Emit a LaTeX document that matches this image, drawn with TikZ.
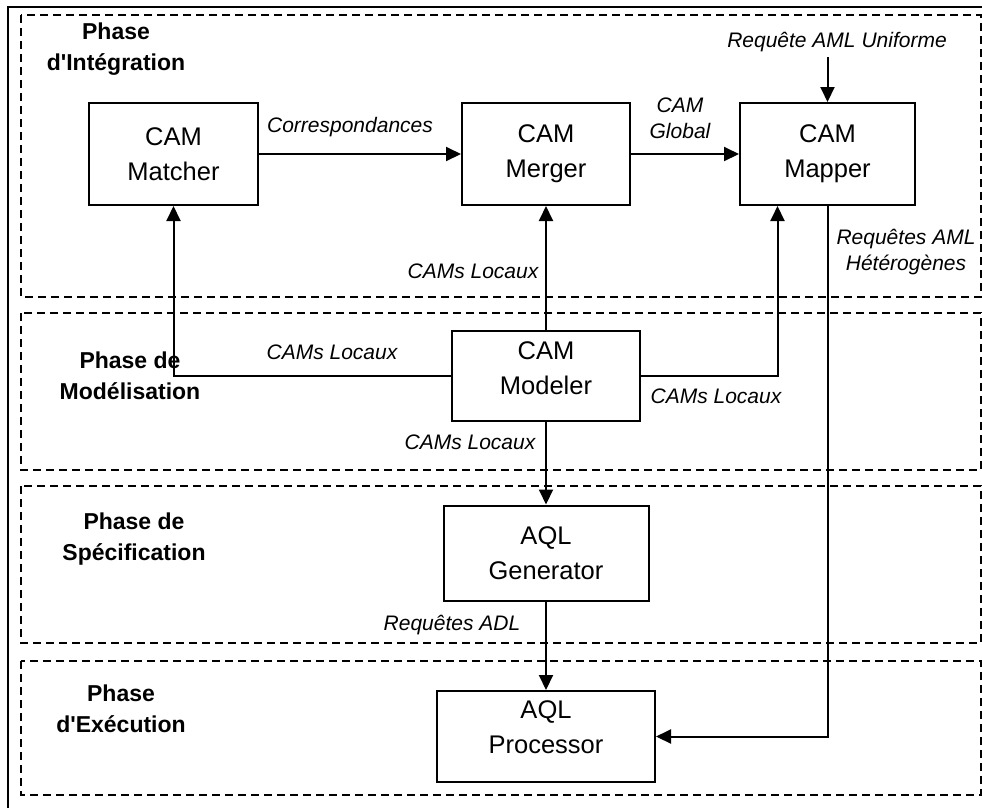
\documentclass[tikz,border=0pt]{standalone}
\usepackage{fontspec}
\setmainfont{Liberation Sans}[Ligatures=TeXOff]
\usetikzlibrary{
	arrows.meta,
	positioning
}

\begin{document}
\begin{tikzpicture}[x=1pt,y=-1pt,
	box/.style={draw,line width=2pt,align=center,inner sep=0pt,font=\fontsize{25.5}{35}\selectfont},
	phase/.style={draw,dash pattern=on 8pt off 5pt,line width=1.5pt},
	phaselbl/.style={align=center,font=\fontsize{23}{31}\selectfont\bfseries},
	flowlbl/.style={align=center,font=\fontsize{21}{26}\selectfont\itshape},
	arr/.style={line width=2pt,-{Triangle[width=14pt,length=15pt]}}]
	
	\useasboundingbox (0,0) rectangle (982,807);
	
	% Frame
	\draw[line width=2pt] (8,7) rectangle (1000,830);
	
	% Phases
	\draw[phase] (21,15) rectangle (981,297);
	\draw[phase] (21,313) rectangle (981,470);
	\draw[phase] (21,486) rectangle (981,643);
	\draw[phase] (21,661) rectangle (981,795);
	
	\node[phaselbl] (pinteg) at (116,49) {Phase\\d'Intégration};
	\node[phaselbl] (pmodel) at (130,376) {Phase de\\Modélisation};
	\node[phaselbl] (pspec) at (134,539) {Phase de\\Spécification};
	\node[phaselbl] (pexec) at (121,709) {Phase\\d'Exécution};
	
	% Components
	\node[box,minimum width=169pt,minimum height=102pt] (matcher) at (173.5,154) {CAM\\Matcher};
	\node[box,minimum width=168pt,minimum height=102pt] (merger) at (546,154) {CAM\\Merger};
	\node[box,minimum width=175pt,minimum height=102pt] (mapper) at (827.5,154) {CAM\\Mapper};
	\node[box,minimum width=188pt,minimum height=90pt,text depth=15pt] (modeler) at (546,376) {CAM\\Modeler};
	\node[box,minimum width=205pt,minimum height=95pt] (generator) at (546,553) {AQL\\Generator};
	\node[box,minimum width=218pt,minimum height=91pt,text depth=19pt] (processor) at (546,736.5) {AQL\\Processor};
	
	% Flows
	\coordinate (reqin) at (827.5,57);
	\draw[arr] (reqin) -- (mapper.north);
	\draw[arr] (matcher) -- (merger);
	\draw[arr] (merger) -- (mapper);
	\draw[arr] (modeler) -- (merger);
	\draw[arr] (modeler.west) -| (matcher.south);
	\draw[arr] (modeler.east) -| ([xshift=-50pt]mapper.south);
	\draw[arr] (modeler) -- (generator);
	\draw[arr] (generator) -- (processor);
	\draw[arr] (mapper.south) |- (processor.east);
	
	% Flow labels
	\node[flowlbl] (lreq) at (837,42) {Requête AML Uniforme};
	\node[flowlbl] (lcorr) at (350,127) {Correspondances};
	\node[flowlbl] (lglobal) at (680,118) {CAM\\Global};
	\node[flowlbl] (lhet) at (906,252) {Requêtes AML\\Hétérogènes};
	\node[flowlbl] (lloc1) at (473,271) {CAMs Locaux};
	\node[flowlbl] (lloc2) at (332,352) {CAMs Locaux};
	\node[flowlbl] (lloc3) at (716,396) {CAMs Locaux};
	\node[flowlbl] (lloc4) at (470,442) {CAMs Locaux};
	\node[flowlbl] (ladl) at (452,625) {Requêtes ADL};
	
\end{tikzpicture}
\end{document}
